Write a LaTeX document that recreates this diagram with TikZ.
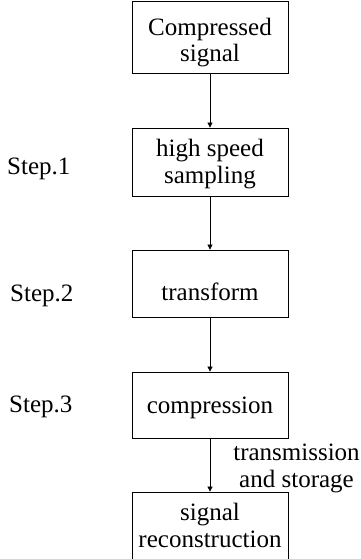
\documentclass[tikz,border=0pt]{standalone}
\usepackage{fontspec}
\setmainfont{Liberation Serif}
\usetikzlibrary{arrows.meta}
\begin{document}
\begin{tikzpicture}[x=1pt,y=-1pt,
  box/.style={draw=black, line width=0.8pt, minimum width=156pt, inner sep=0pt},
  txt/.style={inner sep=0pt, font=\fontsize{25}{26.5}\selectfont, align=center, anchor=base},
  arr/.style={line width=0.7pt, -{Triangle[length=5pt,width=5pt]}}]
\clip (0,0) rectangle (361,559);
\fill[white] (0,0) rectangle (361,559);
\node[box, minimum height=72pt] (b1) at (210,37) {};
\node[box, minimum height=68pt] (b2) at (210,162) {};
\node[box, minimum height=67pt] (b3) at (210,283.5) {};
\node[box, minimum height=66pt] (b4) at (210,405) {};
\node[box, minimum height=108pt] (b5) at (210,546) {};
\node[txt] (t1) at (210,62) {Compressed\\signal};
\node[txt] (t2) at (210,183) {high speed\\sampling};
\node[txt] (t3) at (210,300) {transform};
\node[txt] (t4) at (210,413) {compression};
\node[txt] (t5) at (210,547) {signal\\reconstruction};
\node[txt, anchor=base west] (s1) at (7,174) {Step.1};
\node[txt, anchor=base west] (s2) at (10,301) {Step.2};
\node[txt, anchor=base west] (s3) at (9,412) {Step.3};
\draw[arr] (b1) -- (b2);
\draw[arr] (b2) -- (b3);
\draw[arr] (b3) -- (b4);
\draw[arr] (b4) -- (b5);
\node[txt] (lab) at (296.5,487) {transmission\\and storage};
\end{tikzpicture}
\end{document}
